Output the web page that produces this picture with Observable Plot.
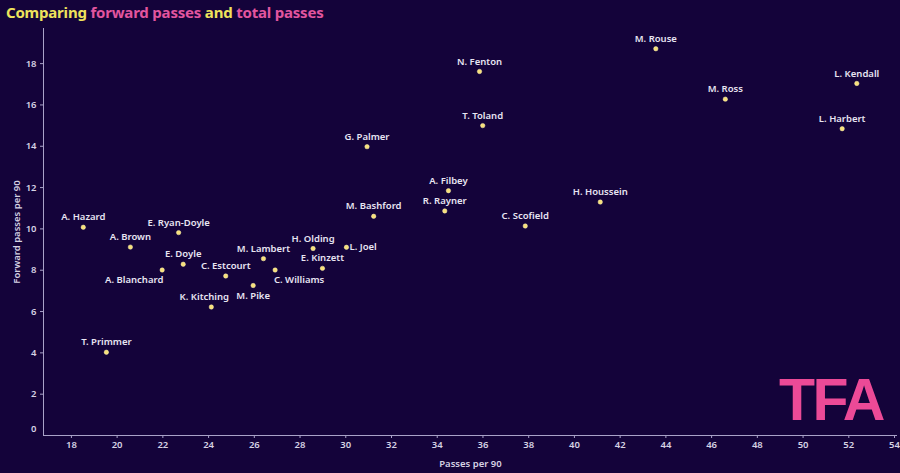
<!DOCTYPE html>
<html>
<head>
<meta charset="utf-8">
<script src="https://cdn.jsdelivr.net/npm/d3@7"></script>
<script src="https://cdn.jsdelivr.net/npm/@observablehq/plot@0.6"></script>
<style>
  html, body { margin: 0; padding: 0; background: #14033a; width: 900px; height: 473px; overflow: hidden; }
  #wrap { position: relative; width: 900px; height: 473px; }
  #title { position: absolute; left: 6px; top: 2px; font-family: "Noto Sans", sans-serif; font-weight: 700; font-size: 15px; color: #efe35c; letter-spacing: -0.2px; }
  #title .p { color: #e2559f; }
  #logo { position: absolute; left: 779px; top: 371px; font-family: "Liberation Sans", sans-serif; font-weight: 700; font-size: 59px; line-height: 59px; color: #ec4a97; letter-spacing: -2.5px; }
</style>
</head>
<body>
<div id="wrap">
  <div id="chart"></div>
  <div id="title">Comparing <span class="p">forward passes</span> and <span class="p">total passes</span></div>
  <div id="logo">TFA</div>
</div>
<script>
const players = ["A. Hazard","T. Primmer","A. Brown","E. Ryan-Doyle","A. Blanchard","E. Doyle","K. Kitching","C. Estcourt","M. Pike","M. Lambert","C. Williams","H. Olding","E. Kinzett","L. Joel","G. Palmer","M. Bashford","A. Filbey","R. Rayner","N. Fenton","T. Toland","C. Scofield","H. Houssein","M. Rouse","M. Ross","L. Kendall","L. Harbert"];
const passesPer90 = [18.52,19.53,20.58,22.69,21.97,22.89,24.12,24.75,25.95,26.40,26.91,28.57,28.98,30.03,30.93,31.22,34.49,34.33,35.85,35.99,37.85,41.13,43.56,46.60,52.35,51.71];
const forwardPer90 = [10.08,4.03,9.12,9.82,8.01,8.29,6.22,7.72,7.26,8.56,8.01,9.05,8.09,9.11,13.98,10.61,11.85,10.87,17.62,15.00,10.14,11.30,18.72,16.28,17.04,14.85];
const xTicks = [18,20,22,24,26,28,30,32,34,36,38,40,42,44,46,48,50,52,54];
const yTicks = [2,4,6,8,10,12,14,16,18];

const data = players.map((name, i) => ({name, x: passesPer90[i], y: forwardPer90[i]}));

// label placement (non-default)
const place = {"A. Blanchard": "bl", "C. Williams": "br", "M. Pike": "b", "K. Kitching": "tl", "L. Joel": "r"};
const pos = d => place[d.name] || "t";

const labelColor = "#e8e5f2";
const axisColor = "#a9a2c8";
const textStyle = {fill: labelColor, fontSize: 9.5, fontWeight: 600, x: "x", y: "y", text: "name"};

const chart = Plot.plot({
  width: 900,
  height: 473,
  marginLeft: 43,
  marginRight: 3,
  marginTop: 28,
  marginBottom: 38,
  style: {background: "transparent", color: "#d6d2e4", fontFamily: "'Noto Sans', sans-serif", fontSize: "9.5px"},
  x: {domain: [16.78, 54.13]},
  y: {domain: [0, 19.7]},
  marks: [
    Plot.axisX({ticks: xTicks, tickSize: 3, tickPadding: 3, stroke: axisColor, fill: "#d6d2e4", fontWeight: 600,
      label: "Passes per 90", labelAnchor: "center", labelOffset: 31, labelArrow: false}),
    Plot.axisY({ticks: yTicks, tickSize: 3, tickPadding: 4, stroke: axisColor, fill: "#d6d2e4", fontWeight: 600,
      label: "Forward passes per 90", labelAnchor: "center", labelOffset: 30, labelArrow: false}),
    Plot.axisY({ticks: [0], tickSize: 0, tickPadding: 7, dy: -7, fill: "#d6d2e4", fontWeight: 600, label: null}),
    Plot.ruleX([16.78], {stroke: axisColor, strokeWidth: 1}),
    Plot.ruleY([0], {stroke: axisColor, strokeWidth: 1}),
    Plot.dot(data, {x: "x", y: "y", r: 2.2, fill: "#f7e07a", stroke: "#fff3b0", strokeWidth: 0.5}),
    Plot.text(data.filter(d => pos(d) === "t"), {...textStyle, dy: -10}),
    Plot.text(data.filter(d => pos(d) === "b"), {...textStyle, dy: 10}),
    Plot.text(data.filter(d => pos(d) === "bl"), {...textStyle, dx: -28, dy: 10}),
    Plot.text(data.filter(d => pos(d) === "br"), {...textStyle, dx: 24, dy: 10}),
    Plot.text(data.filter(d => pos(d) === "tl"), {...textStyle, dx: -7, dy: -10}),
    Plot.text(data.filter(d => pos(d) === "r"), {...textStyle, dx: 3, textAnchor: "start"})
  ]
});
document.getElementById("chart").appendChild(chart);
</script>
</body>
</html>
